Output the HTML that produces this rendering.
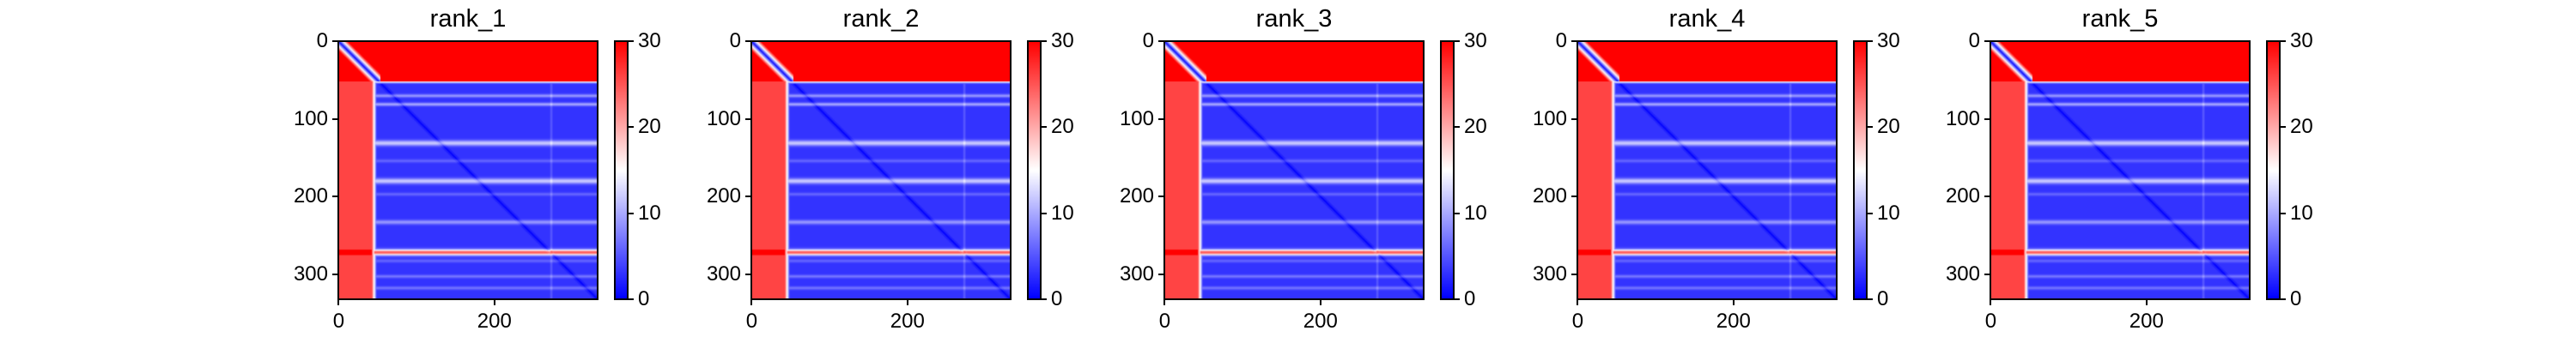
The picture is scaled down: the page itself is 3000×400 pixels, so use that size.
<!DOCTYPE html>
<html>
<head>
<meta charset="utf-8">
<style>
  html,body{margin:0;padding:0;background:#fff;}
  #root{position:relative;width:3000px;height:400px;overflow:hidden;background:#fff;font-family:"Liberation Sans","DejaVu Sans",sans-serif;color:#000;}
  .abs{position:absolute;}
  .title{font-size:29px;text-align:center;width:300px;}
  .tl{font-size:24px;line-height:24px;}
  .spine{border:2px solid #000;box-sizing:border-box;}
  .tick{background:#000;}
  canvas{position:absolute;}
</style>
</head>
<body>
<div id="root"></div>
<script>
// ---- data ----
const panelTitles = ['rank_1','rank_2','rank_3','rank_4','rank_5'];
const nRes = 333;
const vMin = 0, vMax = 30;
const xTicks = [0, 200];
const yTicks = [0, 100, 200, 300];
const cbTicks = [0, 10, 20, 30];
const domainRowEnd = 52;
const domainColEnd = 46;
const baseValue = 3;
const leftRegionValue = 26;
const stripeRows = [70, 81, 131, 154, 180, 197, 233, 272, 283, 303, 318];
const stripeValues = [6, 7, 9, 3, 9, 3, 6, 22, 3, 4, 4];
const stripeWidths = [1.5, 1.5, 2.5, 1.5, 2.5, 1.5, 2, 2.5, 1.5, 1.5, 1.5];
const stripeCols = [273];
const stripeColValues = [2];

function value(i, j) {
  const d = Math.abs(i - j);
  if (i < domainRowEnd && j < domainColEnd + 8) return Math.min(30, 0.5 + 2.5 * d);
  if (i < domainRowEnd) return 30;
  if (j < domainColEnd) {
    let v = leftRegionValue;
    if (Math.abs(i - 272) <= 3) v = 30;
    const e = domainColEnd - j;
    if (e <= 3) v = 12 + e * 4;
    return v;
  }
  let v = baseValue;
  if (d < 2) v = 0.3; else if (d < 5) v = 2;
  for (let k = 0; k < stripeRows.length; k++) {
    const dr = i - stripeRows[k];
    const w = stripeWidths[k];
    v += stripeValues[k] * Math.exp(-(dr * dr) / (2 * w * w));
  }
  for (let k = 0; k < stripeCols.length; k++) if (Math.abs(j - stripeCols[k]) <= 1) v += stripeColValues[k];
  const ec = j - domainColEnd;
  if (ec <= 2) v = Math.max(v, 14 - ec * 4);
  const er = i - domainRowEnd;
  if (er <= 2) v = Math.max(v, 14 - er * 4);
  return Math.min(vMax, v);
}
function bwr(v) {
  const t = Math.max(0, Math.min(1, (v - vMin) / (vMax - vMin)));
  if (t < 0.5) { const s = t / 0.5; return [Math.round(255 * s), Math.round(255 * s), 255]; }
  const s = (t - 0.5) / 0.5; return [255, Math.round(255 * (1 - s)), Math.round(255 * (1 - s))];
}

const root = document.getElementById('root');
function mk(cls, name, css, text) {
  const e = document.createElement('div');
  e.className = 'abs ' + cls;
  
  
  Object.assign(e.style, css);
  if (text !== undefined) e.textContent = text;
  root.appendChild(e);
  return e;
}

const img = document.createElement('canvas');
img.width = nRes; img.height = nRes;
const ictx = img.getContext('2d');
const id = ictx.createImageData(nRes, nRes);
for (let i = 0; i < nRes; i++) for (let j = 0; j < nRes; j++) {
  const c = bwr(value(i, j)); const p = (i * nRes + j) * 4;
  id.data[p] = c[0]; id.data[p + 1] = c[1]; id.data[p + 2] = c[2]; id.data[p + 3] = 255;
}
ictx.putImageData(id, 0, 0);

const AW = 302, AH = 301, TOP = 48;
panelTitles.forEach((t, p) => {
  const L = 394 + 481 * p;
  const sx = AW / nRes, sy = AH / nRes;
  const cv = document.createElement('canvas');
  cv.width = AW; cv.height = AH;
  cv.style.left = L + 'px'; cv.style.top = TOP + 'px';
  
  
  const c = cv.getContext('2d');
  c.imageSmoothingEnabled = true;
  c.drawImage(img, 0, 0, AW, AH);
  root.appendChild(cv);
  mk('spine', 'axes-frame-' + t, {left: (L - 1) + 'px', top: (TOP - 1) + 'px', width: (AW + 2) + 'px', height: (AH + 2) + 'px'});
  mk('title', 'panel-title-' + t, {left: (L + AW / 2 - 150) + 'px', top: '6px'}, t);
  xTicks.forEach(v => {
    const x = L + (v + 0.5) * sx;
    mk('tick', 'x-tick-' + v, {left: (x - 1) + 'px', top: (TOP + AH) + 'px', width: '2px', height: '7px'});
    mk('tl', 'x-tick-label-' + v, {left: (x - 40) + 'px', width: '80px', textAlign: 'center', top: (TOP + AH + 14) + 'px'}, String(v));
  });
  yTicks.forEach(v => {
    const y = TOP + (v + 0.5) * sy;
    mk('tick', 'y-tick-' + v, {left: (L - 7) + 'px', top: (y - 1) + 'px', width: '7px', height: '2px'});
    mk('tl', 'y-tick-label-' + v, {left: (L - 100) + 'px', width: '88px', textAlign: 'right', top: (y - 12) + 'px'}, String(v));
  });
  const CL = L + 322, CW = 15;
  mk('spine', 'colorbar-' + t, {left: (CL - 1) + 'px', top: (TOP - 1) + 'px', width: (CW + 2) + 'px', height: (AH + 2) + 'px',
     background: 'linear-gradient(to top, #0000ff, #ffffff, #ff0000)'});
  cbTicks.forEach(v => {
    const y = TOP + AH - (v - vMin) / (vMax - vMin) * AH;
    mk('tick', 'colorbar-tick-' + v, {left: (CL + CW) + 'px', top: (y - 1) + 'px', width: '7px', height: '2px'});
    mk('tl', 'colorbar-tick-label-' + v, {left: (CL + CW + 12) + 'px', top: (y - 12) + 'px'}, String(v));
  });
});
</script>
</body>
</html>
